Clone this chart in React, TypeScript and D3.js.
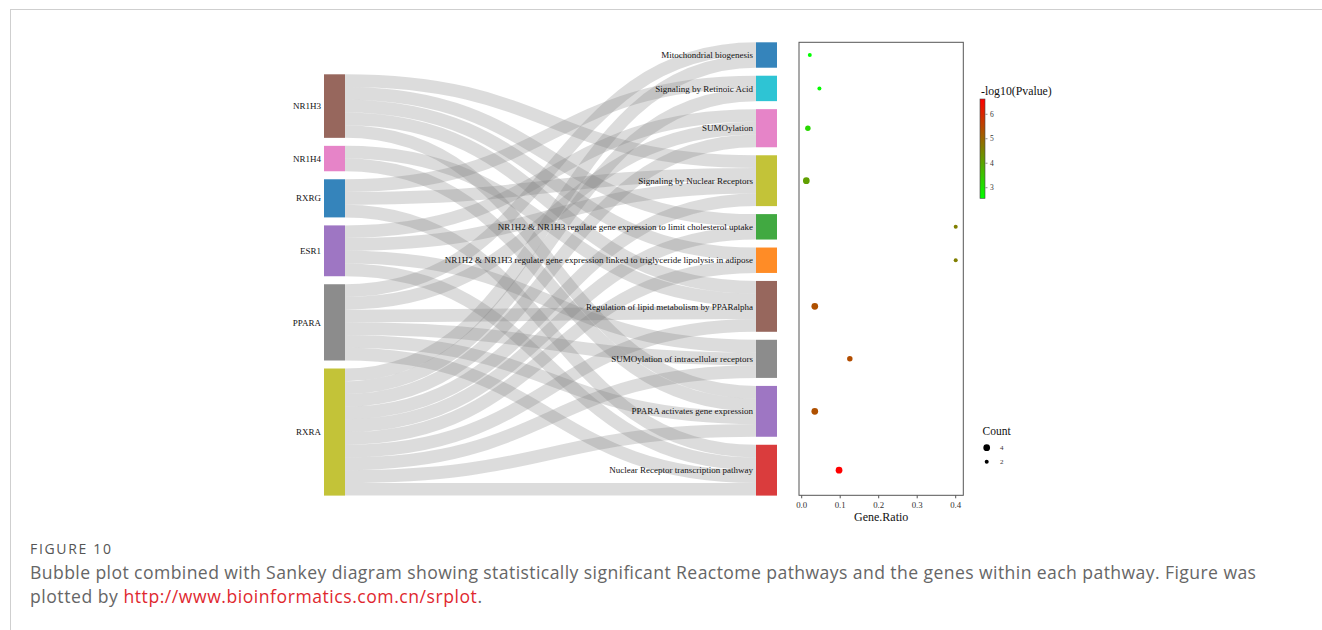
import React from "react";
import * as d3 from "d3";

const genes = ["NR1H3", "NR1H4", "RXRG", "ESR1", "PPARA", "RXRA"];
const geneColors = ["#8c564b", "#e377c2", "#1f77b4", "#9467bd", "#7f7f7f", "#bcbd22"];

const pathways = [
  "Mitochondrial biogenesis",
  "Signaling by Retinoic Acid",
  "SUMOylation",
  "Signaling by Nuclear Receptors",
  "NR1H2 & NR1H3 regulate gene expression to limit cholesterol uptake",
  "NR1H2 & NR1H3 regulate gene expression linked to triglyceride lipolysis in adipose",
  "Regulation of lipid metabolism by PPARalpha",
  "SUMOylation of intracellular receptors",
  "PPARA activates gene expression",
  "Nuclear Receptor transcription pathway",
];
const pathwayColors = ["#1f77b4", "#17becf", "#e377c2", "#bcbd22", "#2ca02c", "#ff7f0e", "#8c564b", "#7f7f7f", "#9467bd", "#d62728"];

const geneRatio = [0.021, 0.046, 0.016, 0.012, 0.4, 0.4, 0.034, 0.125, 0.034, 0.097];
const negLog10P = [2.57, 2.62, 3.2, 4.1, 4.6, 4.6, 5.35, 5.4, 5.35, 6.62];
const counts = [2, 2, 3, 4, 2, 2, 4, 3, 4, 4];

const colorTicks = [3, 4, 5, 6];
const sizeLegend = [4, 2];

const links: [string, string][] = [
  ["NR1H3", "Signaling by Nuclear Receptors"],
  ["NR1H3", "NR1H2 & NR1H3 regulate gene expression to limit cholesterol uptake"],
  ["NR1H3", "NR1H2 & NR1H3 regulate gene expression linked to triglyceride lipolysis in adipose"],
  ["NR1H3", "Regulation of lipid metabolism by PPARalpha"],
  ["NR1H3", "PPARA activates gene expression"],
  ["NR1H4", "Regulation of lipid metabolism by PPARalpha"],
  ["NR1H4", "PPARA activates gene expression"],
  ["RXRG", "Signaling by Retinoic Acid"],
  ["RXRG", "Signaling by Nuclear Receptors"],
  ["RXRG", "Nuclear Receptor transcription pathway"],
  ["ESR1", "SUMOylation"],
  ["ESR1", "Signaling by Nuclear Receptors"],
  ["ESR1", "SUMOylation of intracellular receptors"],
  ["ESR1", "Nuclear Receptor transcription pathway"],
  ["PPARA", "Mitochondrial biogenesis"],
  ["PPARA", "SUMOylation"],
  ["PPARA", "Regulation of lipid metabolism by PPARalpha"],
  ["PPARA", "SUMOylation of intracellular receptors"],
  ["PPARA", "PPARA activates gene expression"],
  ["PPARA", "Nuclear Receptor transcription pathway"],
  ["RXRA", "Mitochondrial biogenesis"],
  ["RXRA", "Signaling by Retinoic Acid"],
  ["RXRA", "SUMOylation"],
  ["RXRA", "Signaling by Nuclear Receptors"],
  ["RXRA", "NR1H2 & NR1H3 regulate gene expression to limit cholesterol uptake"],
  ["RXRA", "NR1H2 & NR1H3 regulate gene expression linked to triglyceride lipolysis in adipose"],
  ["RXRA", "Regulation of lipid metabolism by PPARalpha"],
  ["RXRA", "SUMOylation of intracellular receptors"],
  ["RXRA", "PPARA activates gene expression"],
  ["RXRA", "Nuclear Receptor transcription pathway"],
];

const SERIF = "'Liberation Serif', 'Times New Roman', serif";
const SANS = "'Open Sans', Lato, sans-serif";

export default function App() {
  // layout
  const unit = 12.71;
  const pad = 8;
  const rightTop = 42.3;
  const leftX0 = 324, leftX1 = 345;
  const rightX0 = 756, rightX1 = 777;

  const linkUnits = d3.scaleLinear().domain([0, 1]).range([0, unit]);

  const geneDeg = genes.map((g) => links.filter((l) => l[0] === g).length);
  const pathDeg = pathways.map((p) => links.filter((l) => l[1] === p).length);

  const totalRight = linkUnits(d3.sum(pathDeg)) + pad * (pathways.length - 1);
  const bottom = rightTop + totalRight;
  const totalLeft = linkUnits(d3.sum(geneDeg)) + pad * (genes.length - 1);
  const leftTop = bottom - totalLeft;

  const stack = (deg: number[], top: number) => {
    let y = top;
    return deg.map((d) => {
      const y0 = y;
      const y1 = y + linkUnits(d);
      y = y1 + pad;
      return { y0, y1 };
    });
  };
  const gNodes = stack(geneDeg, leftTop);
  const pNodes = stack(pathDeg, rightTop);

  const linkData = links.map(([g, p]) => ({ gi: genes.indexOf(g), pi: pathways.indexOf(p), sy: 0, ty: 0 }));
  genes.forEach((_, gi) => {
    const ls = linkData.filter((l) => l.gi === gi).sort((a, b) => a.pi - b.pi);
    ls.forEach((l, k) => (l.sy = gNodes[gi].y0 + linkUnits(k + 0.5)));
  });
  pathways.forEach((_, pi) => {
    const ls = linkData.filter((l) => l.pi === pi).sort((a, b) => a.gi - b.gi);
    ls.forEach((l, k) => (l.ty = pNodes[pi].y0 + linkUnits(k + 0.5)));
  });
  const linkGen = d3.linkHorizontal();

  // bubble panel
  const panel = { x0: 799, x1: 963.3, y0: 42.3, y1: 495.3 };
  const x = d3.scaleLinear().domain([0, 0.4]).range([801.7, 955.7]);
  const cDomain = [2.567, 6.625];
  const color = d3.scaleLinear<string>().domain(cDomain).range(["#00ff00", "#ff0000"]).interpolate(d3.interpolateRgb);
  const size = d3.scaleSqrt().domain([2, 4]).range([2, 3.35]);
  const cbar = { x: 980, w: 5, y0: 99, y1: 198.3 };
  const cy = d3.scaleLinear().domain(cDomain).range([cbar.y1, cbar.y0]);
  const fmt = d3.format(".1f");

  return (
    <div style={{ position: "absolute", left: 0, top: 0 }}>
      <svg width={1322} height={630} style={{ display: "block", background: "#fff" }}>
        <defs>
          <linearGradient id="cbar" x1="0" y1="1" x2="0" y2="0">
            <stop offset="0%" stopColor={color(cDomain[0])} />
            <stop offset="100%" stopColor={color(cDomain[1])} />
          </linearGradient>
        </defs>
        {/* frame */}
        <line x1={10} x2={1322} y1={9.5} y2={9.5} stroke="#cfcfcf" strokeWidth={1} />
        <line x1={10.5} x2={10.5} y1={9} y2={630} stroke="#cfcfcf" strokeWidth={1} />

        {/* links */}
        <g fill="none" stroke="#7f7f7f" strokeOpacity={0.27}>
          {linkData.map((l, i) => (
            <path
              key={i}
              d={linkGen({ source: [leftX1, l.sy], target: [rightX0, l.ty] } as any) as string}
              strokeWidth={unit}
            />
          ))}
        </g>

        {/* nodes */}
        {genes.map((g, i) => (
          <rect key={g} x={leftX0} y={gNodes[i].y0} width={leftX1 - leftX0} height={gNodes[i].y1 - gNodes[i].y0} fill={geneColors[i]} fillOpacity={0.9} />
        ))}
        {pathways.map((p, i) => (
          <rect key={p} x={rightX0} y={pNodes[i].y0} width={rightX1 - rightX0} height={pNodes[i].y1 - pNodes[i].y0} fill={pathwayColors[i]} fillOpacity={0.9} />
        ))}
        <g fontFamily={SERIF} fontSize={9} fill="#111" textAnchor="end">
          {genes.map((g, i) => (
            <text key={g} x={leftX0 - 3} y={(gNodes[i].y0 + gNodes[i].y1) / 2} dy="0.35em">{g}</text>
          ))}
          {pathways.map((p, i) => (
            <text key={p} x={rightX0 - 3} y={(pNodes[i].y0 + pNodes[i].y1) / 2} dy="0.35em">{p}</text>
          ))}
        </g>

        {/* bubble panel */}
        <rect x={panel.x0} y={panel.y0} width={panel.x1 - panel.x0} height={panel.y1 - panel.y0} fill="none" stroke="#555" strokeWidth={1} />
        {pathways.map((p, i) => (
          <circle key={p} cx={x(geneRatio[i])} cy={(pNodes[i].y0 + pNodes[i].y1) / 2} r={size(counts[i])} fill={color(negLog10P[i])} />
        ))}
        <g fontFamily={SERIF} fontSize={8.8} fill="#333" textAnchor="middle">
          {x.ticks(5).map((t) => (
            <g key={t}>
              <line x1={x(t)} x2={x(t)} y1={panel.y1} y2={panel.y1 + 3} stroke="#555" />
              <text x={x(t)} y={507.5}>{fmt(t)}</text>
            </g>
          ))}
        </g>
        <text x={(panel.x0 + panel.x1) / 2} y={520.5} fontFamily={SERIF} fontSize={12} textAnchor="middle" fill="#111">Gene.Ratio</text>

        {/* color legend */}
        <text x={981} y={95} fontFamily={SERIF} fontSize={11.8} fill="#111">-log10(Pvalue)</text>
        <rect x={cbar.x} y={cbar.y0} width={cbar.w} height={cbar.y1 - cbar.y0} fill="url(#cbar)" stroke="#444" strokeWidth={0.6} />
        <g fontFamily={SERIF} fontSize={7.5} fill="#333">
          {colorTicks.map((t) => (
            <g key={t}>
              <line x1={cbar.x + cbar.w + 0.5} x2={cbar.x + cbar.w + 2.5} y1={cy(t)} y2={cy(t)} stroke="#444" strokeWidth={0.6} />
              <text x={990} y={cy(t)} dy="0.35em">{t}</text>
            </g>
          ))}
        </g>

        {/* size legend */}
        <text x={982.5} y={435} fontFamily={SERIF} fontSize={11.5} fill="#111">Count</text>
        {sizeLegend.map((c, i) => (
          <g key={c}>
            <circle cx={986.7} cy={447.7 + i * 14} r={size(c)} fill="#000" />
            <text x={1000} y={447.7 + i * 14} dy="0.35em" fontFamily={SERIF} fontSize={7} fill="#333">{c}</text>
          </g>
        ))}

        {/* caption */}
        <text x={30} y={554} fontFamily={SANS} fontSize={14} fill="#555" textLength={81} lengthAdjust="spacing">FIGURE 10</text>
        <text x={30} y={579} fontFamily={SANS} fontSize={17.6} fill="#666" textLength={1226} lengthAdjust="spacing">
          Bubble plot combined with Sankey diagram showing statistically significant Reactome pathways and the genes within each pathway. Figure was
        </text>
        <text x={30} y={603} fontFamily={SANS} fontSize={17.6} fill="#666" textLength={452} lengthAdjust="spacing">
          plotted by <tspan fill="#e0282f">http://www.bioinformatics.com.cn/srplot</tspan>.
        </text>
      </svg>
    </div>
  );
}
